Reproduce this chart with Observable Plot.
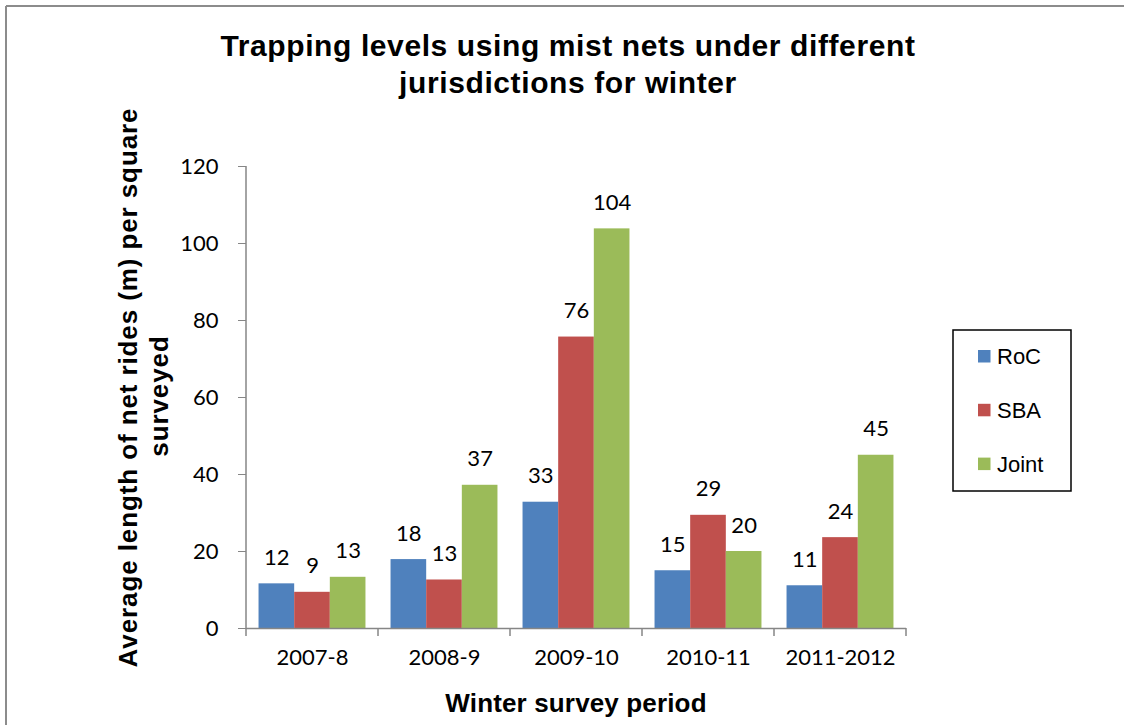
<!DOCTYPE html>
<html>
<head>
<meta charset="utf-8">
<script src="https://cdn.jsdelivr.net/npm/d3@7"></script>
<script src="https://cdn.jsdelivr.net/npm/@observablehq/plot@0.6"></script>
<style>
  html, body { margin: 0; padding: 0; background: #fff; }
  #chart { position: relative; width: 1124px; height: 725px; overflow: hidden; }
  #chart svg { position: absolute; left: 0; top: 0; }
</style>
</head>
<body>
<div id="chart"></div>
<script>
// ---- data ----
const categories = ["2007-8", "2008-9", "2009-10", "2010-11", "2011-2012"];
const series = ["RoC", "SBA", "Joint"];
const roc   = [11.6, 17.9, 32.8, 15.0, 11.1];
const sba   = [9.4, 12.6, 75.7, 29.4, 23.6];
const joint = [13.3, 37.2, 103.8, 20.0, 45.0];
const yTicks = [0, 20, 40, 60, 80, 100, 120];
const colors = ["#4F81BD", "#C0504D", "#9BBB59"];
const titleLines = ["Trapping levels using mist nets under different", "jurisdictions for winter"];
const yLabelLines = ["Average length of net rides (m) per square", "surveyed"];
const xLabel = "Winter survey period";

const valuesBySeries = [roc, sba, joint];
const rows = [];
series.forEach((s, si) => categories.forEach((c, ci) => rows.push({category: c, series: s, si, value: valuesBySeries[si][ci]})));

// ---- layout ----
const W = 1124, H = 725;
const mL = 246, mR = 218, mT = 166, mB = 97;
const padInner = 0.19, padOuter = 0.095;
const step = (W - mL - mR) / (categories.length - padInner + 2 * padOuter);
const bw = step * (1 - padInner);
const barW = bw / 3;
const numFont = "Lato, 'Open Sans', sans-serif";
const arial = "'Liberation Sans', Arial, sans-serif";
const axisColor = "#868686";

const marks = [];
series.forEach((s, si) => {
  const d = rows.filter(r => r.si === si);
  marks.push(Plot.barY(d, {
    x: "category", y: "value", fill: colors[si],
    insetLeft: si * barW, insetRight: (2 - si) * barW
  }));
  marks.push(Plot.text(d, {
    x: "category", y: "value", text: r => String(Math.round(r.value)),
    dx: (si - 1) * barW, dy: -26, fontSize: 22, fontFamily: numFont, fill: "#000"
  }));
});
marks.push(Plot.axisY({ticks: yTicks, tickSize: 8, tickPadding: 20, stroke: axisColor, fill: "#000", fontSize: 22, fontFamily: numFont, label: null, tickFormat: d => String(d)}));
marks.push(Plot.axisX({tickSize: 0, tickPadding: 21, fill: "#000", fontSize: 22, fontFamily: numFont, label: null}));
marks.push(Plot.ruleY([0], {stroke: axisColor, strokeWidth: 1.5}));

const plot = Plot.plot({
  width: W, height: H,
  marginLeft: mL, marginRight: mR, marginTop: mT, marginBottom: mB,
  style: {background: "transparent", overflow: "visible"},
  x: {type: "band", domain: categories, paddingInner: padInner, paddingOuter: padOuter, round: false, label: null},
  y: {domain: [0, 120], label: null},
  marks
});
document.getElementById("chart").appendChild(plot);

// ---- decorations using the plot's scales ----
const svg = d3.select(plot);
const xs = plot.scale("x"), ys = plot.scale("y");
const x0 = mL, x1 = W - mR;
const yBase = ys.apply(0), yTop = ys.apply(120);

// outer chart border (top & left visible)
svg.append("line").attr("x1", 6).attr("x2", W).attr("y1", 6).attr("y2", 6).attr("stroke", "#8c8c8c").attr("stroke-width", 2);
svg.append("line").attr("x1", 6).attr("x2", 6).attr("y1", 6).attr("y2", H).attr("stroke", "#8c8c8c").attr("stroke-width", 2);

// y axis line
svg.append("line").attr("x1", x0).attr("x2", x0).attr("y1", yTop).attr("y2", yBase).attr("stroke", axisColor).attr("stroke-width", 1.5);
// x axis tick marks at category boundaries
for (let i = 0; i <= categories.length; i++) {
  const xx = x0 + (i === categories.length ? (x1 - x0) : (xs.apply(categories[i]) - (step - bw) / 2 - x0));
  svg.append("line").attr("x1", xx).attr("x2", xx).attr("y1", yBase).attr("y2", yBase + 8).attr("stroke", axisColor).attr("stroke-width", 1.5);
}

// title
const title = svg.append("text").attr("text-anchor", "middle").attr("font-family", arial).attr("font-weight", "bold").attr("font-size", 30).attr("letter-spacing", 0.6).attr("fill", "#000");
titleLines.forEach((t, i) => title.append("tspan").attr("x", 568).attr("y", 56 + i * 37).text(t));

// y label
svg.append("text").attr("transform", "translate(137,387.5) rotate(-90)").attr("text-anchor", "middle").attr("font-family", arial).attr("font-weight", "bold").attr("font-size", 26).attr("letter-spacing", 0.9).attr("fill", "#000").text(yLabelLines[0]);
svg.append("text").attr("transform", "translate(168,396) rotate(-90)").attr("text-anchor", "middle").attr("font-family", arial).attr("font-weight", "bold").attr("font-size", 26).attr("letter-spacing", 0.9).attr("fill", "#000").text(yLabelLines[1]);

// x label
svg.append("text").attr("x", (x0 + x1) / 2).attr("y", 711.5).attr("text-anchor", "middle").attr("font-family", arial).attr("font-weight", "bold").attr("font-size", 26).attr("letter-spacing", 0.15).attr("fill", "#000").text(xLabel);

// legend
const lg = svg.append("g");
lg.append("rect").attr("x", 953).attr("y", 330).attr("width", 118).attr("height", 161).attr("fill", "#fff").attr("stroke", "#000").attr("stroke-width", 1.5);
series.forEach((s, i) => {
  const by = 364 + i * 53.8;
  lg.append("rect").attr("x", 978).attr("y", by - 14).attr("width", 12.5).attr("height", 12.5).attr("fill", colors[i]);
  lg.append("text").attr("x", 997).attr("y", by).attr("text-anchor", "start").attr("font-family", arial).attr("font-size", 22).attr("fill", "#000").text(s);
});
</script>
</body>
</html>
